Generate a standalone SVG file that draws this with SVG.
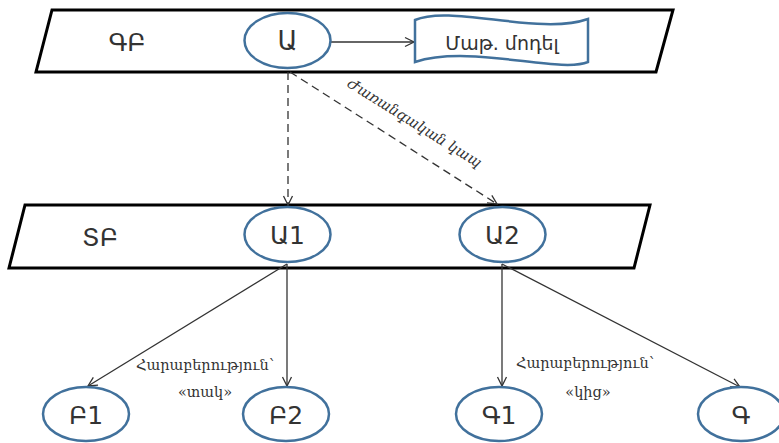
<svg xmlns="http://www.w3.org/2000/svg" width="779" height="443" viewBox="0 0 779 443">
<style>
.plane{fill:#fff;stroke:#000;stroke-width:3}
.node{fill:#fff;stroke:#41719c;stroke-width:2.5}
.t{font-family:"DejaVu Sans",sans-serif;fill:#333;text-anchor:middle;dominant-baseline:central}
.lbl{font-family:"DejaVu Serif",serif;fill:#333;text-anchor:middle;font-size:14.5px}
.c{fill:none;stroke:#333;stroke-width:1.3}
.d{stroke-dasharray:8,5}
</style>
<defs>
<marker id="ah" markerWidth="12" markerHeight="12" refX="10" refY="5" orient="auto" markerUnits="userSpaceOnUse" viewBox="0 0 12 10">
<path d="M1,0.5 L10,5 L1,9.5" fill="none" stroke="#333" stroke-width="1.3"/>
</marker>
</defs>
<g id="plane-top"><polygon class="plane" points="52,10 673,10 656,72 36,72"/><text class="t" x="127" y="42" font-size="25">ԳԲ</text></g>
<g id="plane-bottom"><polygon class="plane" points="25,205 650,205 634,268 9,268"/><text class="t" x="100" y="237" font-size="25">ՏԲ</text></g>
<g id="connectors">
<line class="c" x1="331" y1="42" x2="414" y2="42" marker-end="url(#ah)"/>
<line class="c d" x1="288" y1="72" x2="288" y2="205" marker-end="url(#ah)"/>
<line class="c d" x1="290" y1="72" x2="497" y2="204" marker-end="url(#ah)"/>
<line class="c" x1="287" y1="264" x2="88" y2="386" marker-end="url(#ah)"/>
<line class="c" x1="287" y1="264" x2="287" y2="386" marker-end="url(#ah)"/>
<line class="c" x1="502" y1="264" x2="502" y2="386" marker-end="url(#ah)"/>
<line class="c" x1="502" y1="264" x2="740" y2="387" marker-end="url(#ah)"/>
<text class="lbl" font-style="italic" font-size="16" transform="translate(412,127) rotate(32)">Ժառանգական կապ</text>
<text class="lbl" x="205" y="370">Հարաբերություն՝</text>
<text class="lbl" x="205" y="397">«տակ»</text>
<text class="lbl" x="585" y="368">Հարաբերություն՝</text>
<text class="lbl" x="588" y="397">«կից»</text>
</g>
<g id="node-A"><ellipse class="node" cx="287.5" cy="40.5" rx="43" ry="27.5"/><text class="t" x="287.5" y="41" font-size="26">Ա</text></g>
<g id="node-model"><path class="node" d="M415,20 C450,4 540,36 588,19 L588,62 C560,74 470,44 415,62 Z"/><text class="t" x="502" y="43" font-size="19">Մաթ. մոդել</text></g>
<g id="node-A1"><ellipse class="node" cx="287.5" cy="234.5" rx="43" ry="27.5"/><text class="t" x="287.5" y="235" font-size="25">Ա1</text></g>
<g id="node-A2"><ellipse class="node" cx="502.5" cy="234.5" rx="43" ry="27.5"/><text class="t" x="502.5" y="235" font-size="25">Ա2</text></g>
<g id="node-B1"><ellipse class="node" cx="86" cy="414" rx="43" ry="27"/><text class="t" x="86" y="415" font-size="25">Բ1</text></g>
<g id="node-B2"><ellipse class="node" cx="286" cy="414" rx="43" ry="27"/><text class="t" x="286" y="415" font-size="25">Բ2</text></g>
<g id="node-G1"><ellipse class="node" cx="499" cy="414" rx="43" ry="27"/><text class="t" x="499" y="415" font-size="25">Գ1</text></g>
<g id="node-G"><ellipse class="node" cx="741" cy="414" rx="43" ry="27"/><text class="t" x="741" y="415" font-size="25">Գ</text></g>
</svg>
